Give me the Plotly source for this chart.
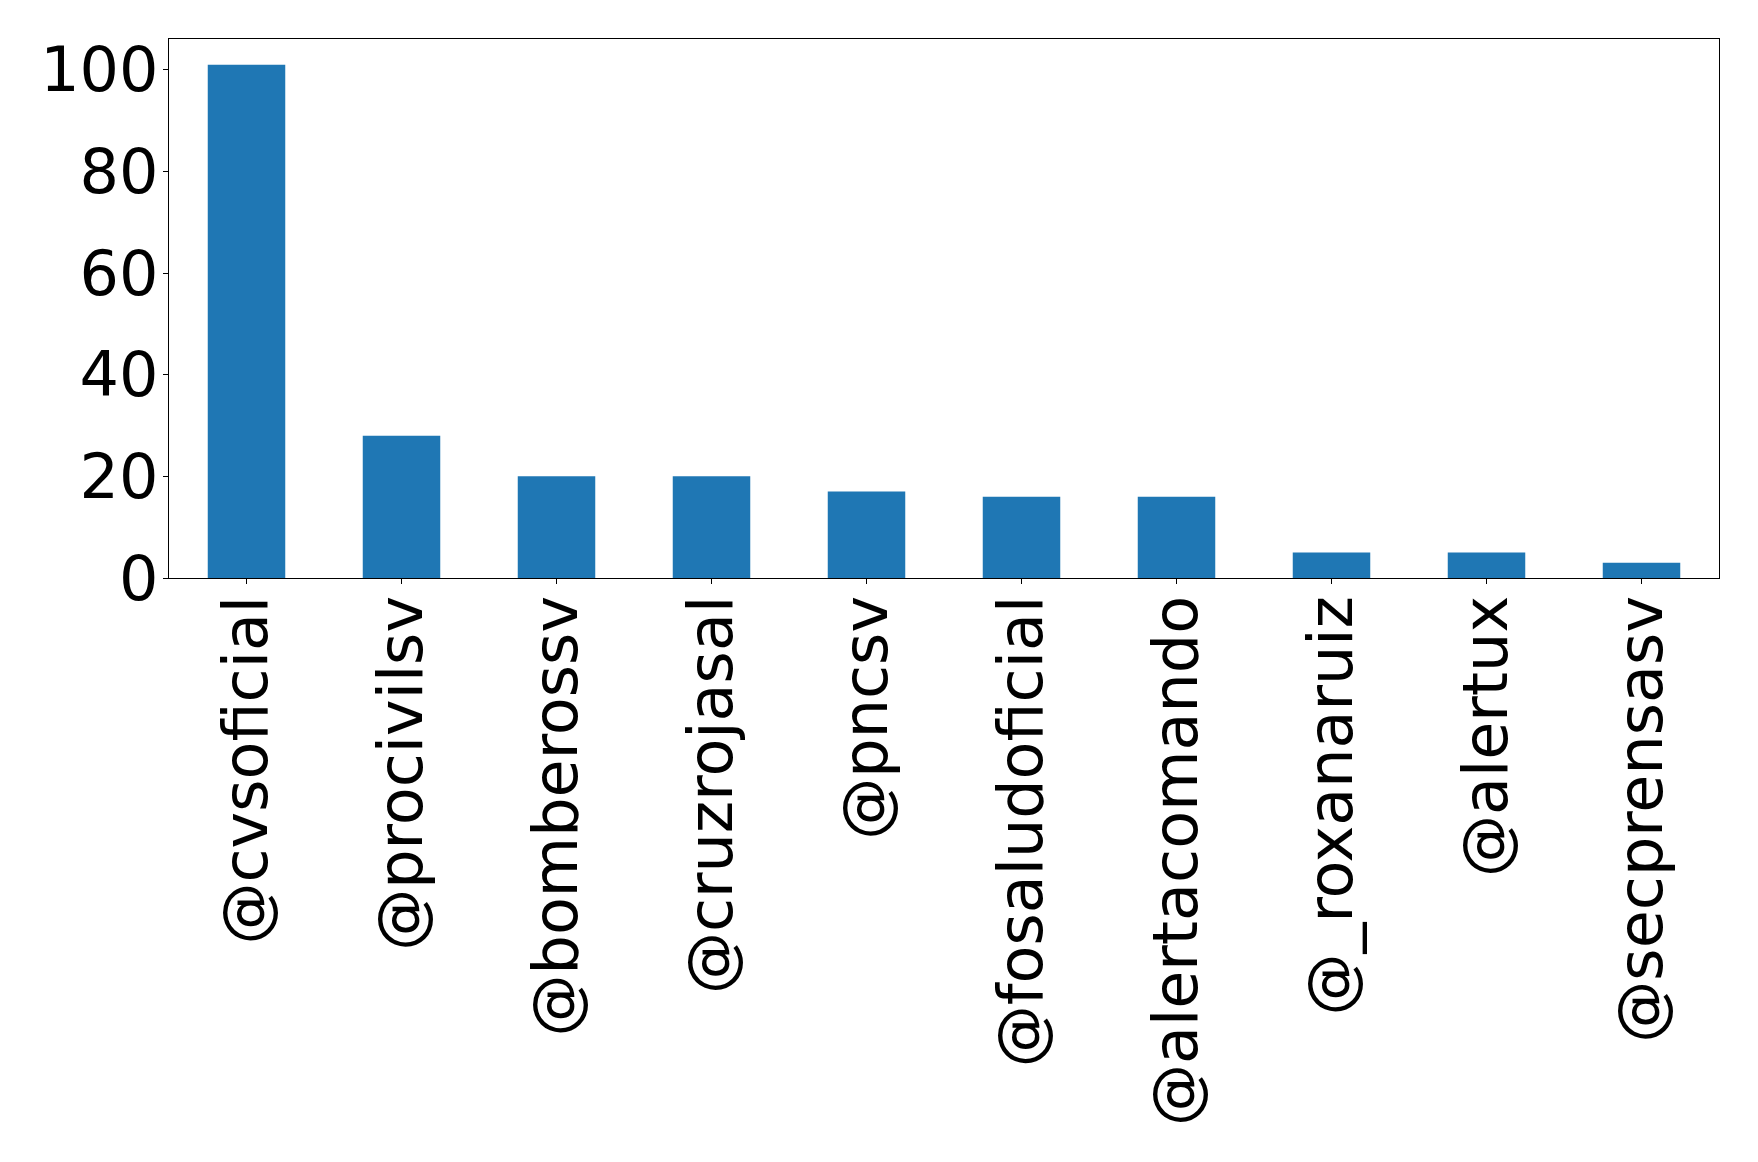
import plotly.graph_objects as go

accounts = ["@cvsoficial", "@procivilsv", "@bomberossv", "@cruzrojasal", "@pncsv",
            "@fosaludoficial", "@alertacomando", "@_roxanaruiz", "@alertux", "@secprensasv"]
counts = [101, 28, 20, 20, 17, 16, 16, 5, 5, 3]
y_ticks = [0, 20, 40, 60, 80, 100]

fig = go.Figure(go.Bar(x=accounts, y=counts, marker_color="#1f77b4", marker_line_width=0))

font = dict(family="DejaVu Sans", size=62, color="black")
fig.update_layout(
    width=1758, height=1162,
    margin=dict(l=161, r=47, t=31, b=592),
    plot_bgcolor="white", paper_bgcolor="white",
    bargap=0.5, showlegend=False, font=font,
)
fig.update_xaxes(
    type="category", range=[-0.5, 9.5], tickangle=-90, tickfont=font,
    showline=True, mirror=True, linecolor="black", linewidth=1.2,
    ticks="outside", ticklen=5, tickwidth=1.2, tickcolor="black", showgrid=False,
    ticklabelstandoff=-13,
)
fig.update_yaxes(
    range=[0, 106.05], tickvals=y_ticks, tickfont=font,
    showline=True, mirror=True, linecolor="black", linewidth=1.2,
    ticks="outside", ticklen=5, tickwidth=1.2, tickcolor="black", showgrid=False,
    zeroline=False, ticklabelstandoff=-8,
)
fig.write_html("out.html")
